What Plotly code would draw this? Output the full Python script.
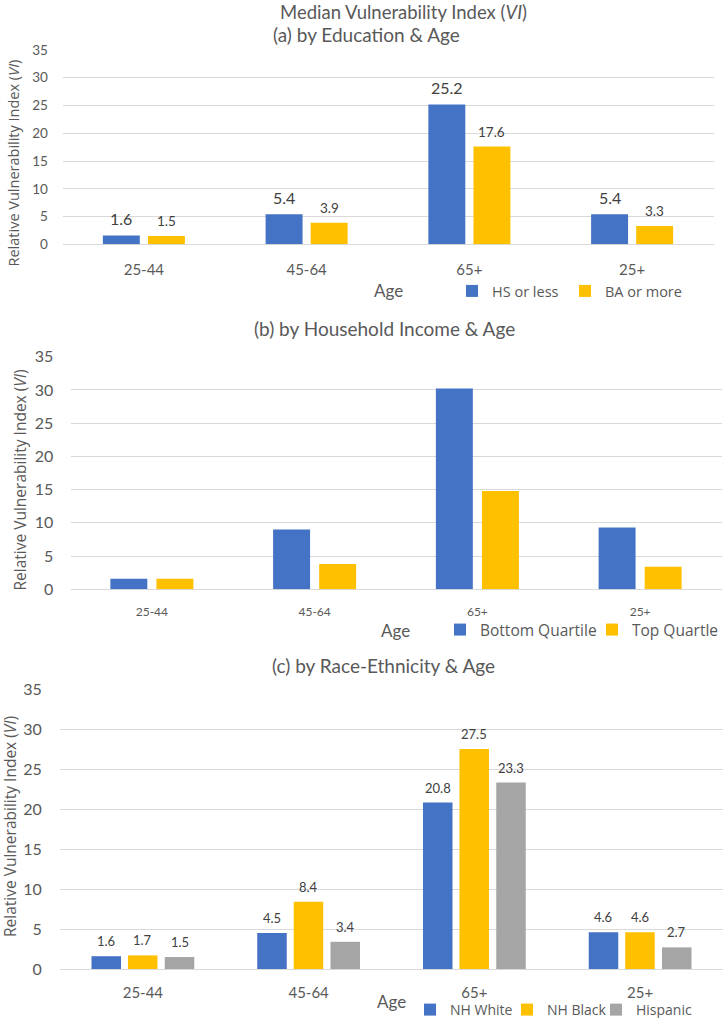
import plotly.graph_objects as go

# ---------------- data ----------------
ages = ["25-44", "45-64", "65+", "25+"]

edu_hs_or_less = [1.6, 5.4, 25.2, 5.4]
edu_ba_or_more = [1.5, 3.9, 17.6, 3.3]

inc_bottom_quartile = [1.6, 9.0, 30.2, 9.3]
inc_top_quartile = [1.6, 3.8, 14.8, 3.4]

race_nh_white = [1.6, 4.5, 20.8, 4.6]
race_nh_black = [1.7, 8.4, 27.5, 4.6]
race_hispanic = [1.5, 3.4, 23.3, 2.7]

# ---------------- styles ----------------
BLUE = "#4472C4"
YELLOW = "#FFC000"
GRAY = "#A5A5A5"
TXT = "#595959"
GRID = "#D9D9D9"
FONT = "Lato"
FONT2 = "Open Sans"
W, H = 725, 1018

fig = go.Figure()

panels = {
    "a": dict(x=(62.5, 713.5), y=(50, 244.3)),
    "b": dict(x=(70.5, 721.5), y=(356.7, 589.3)),
    "c": dict(x=(60, 723), y=(689, 969)),
}


def px_x(v):
    return v / W


def px_y(v):
    return 1 - v / H


def add_bars(vals, name, color, offset, width, xa, ya, legend, legendwidth, text_size=None):
    fig.add_trace(go.Bar(
        x=ages, y=vals, name=name, marker=dict(color=color, line=dict(width=0)),
        offset=offset, width=width, xaxis=xa, yaxis=ya, legend=legend,
        legendwidth=legendwidth, hoverinfo="x+y+name"))
    if text_size:
        for i, v in enumerate(vals):
            fig.add_annotation(
                x=i + offset + width / 2, y=v, xref=xa, yref=ya,
                text=f"{v:.1f}", showarrow=False, yanchor="bottom", yshift=5,
                font=dict(family=FONT, size=text_size, color="#404040"))


# (a) education
wa = 0.227
add_bars(edu_hs_or_less, "HS or less", BLUE, -0.252, wa, "x", "y", "legend", 68, 16)
add_bars(edu_ba_or_more, "BA or more", YELLOW, 0.025, wa, "x", "y", "legend", 95, 13.5)

# (b) income
wb = 0.227
add_bars(inc_bottom_quartile, "Bottom Quartile", BLUE, -0.255, wb, "x2", "y2", "legend2", 107)
add_bars(inc_top_quartile, "Top Quartle", YELLOW, 0.028, wb, "x2", "y2", "legend2", 100)

# (c) race-ethnicity
wc = 0.178
add_bars(race_nh_white, "NH White", BLUE, -0.31, wc, "x3", "y3", "legend3", 52, 13)
add_bars(race_nh_black, "NH Black", YELLOW, -0.09, wc, "x3", "y3", "legend3", 44, 13)
add_bars(race_hispanic, "Hispanic", GRAY, 0.132, wc, "x3", "y3", "legend3", 80, 13)

axis_cfg = {
    "a": dict(xs=15, ys=13.5, xstand=15, ylen=11),
    "b": dict(xs=12, ys=16, xstand=14, ylen=13),
    "c": dict(xs=15, ys=16, xstand=13, ylen=14),
}
for idx, key in enumerate(["a", "b", "c"]):
    p = panels[key]
    c = axis_cfg[key]
    sfx = "" if idx == 0 else str(idx + 1)
    fig.layout["xaxis" + sfx] = dict(
        domain=[px_x(p["x"][0]), px_x(p["x"][1])], anchor="y" + sfx,
        type="category", categoryorder="array", categoryarray=ages,
        range=[-0.5, 3.5], showgrid=False, showline=False, zeroline=False,
        ticks="", tickfont=dict(family=FONT, size=c["xs"], color=TXT),
        ticklabelstandoff=c["xstand"], fixedrange=True, automargin=False)
    fig.layout["yaxis" + sfx] = dict(
        domain=[px_y(p["y"][1]), px_y(p["y"][0])], anchor="x" + sfx,
        range=[0, 35], dtick=5, showgrid=True, gridcolor=GRID, gridwidth=1,
        zeroline=True, zerolinecolor=GRID, zerolinewidth=1, showline=False,
        ticks="outside", ticklen=c["ylen"], tickcolor="rgba(0,0,0,0)",
        tickfont=dict(family=FONT, size=c["ys"], color=TXT),
        fixedrange=True, automargin=False)


def label(text, x, y, size, family=FONT, angle=0):
    fig.add_annotation(text=text, x=px_x(x), y=px_y(y), xref="paper", yref="paper",
                       showarrow=False, xanchor="center", yanchor="middle",
                       textangle=angle, font=dict(family=family, size=size, color=TXT))


label("Median Vulnerability Index (<i>VI</i>)", 403, 11.5, 18.5)
label("(a) by Education &amp; Age", 366, 34.5, 19)
label("(b) by Household Income &amp; Age", 385, 329, 19)
label("(c) by Race-Ethnicity &amp; Age", 383, 665, 19)

label("Relative Vulnerability Index (<i>VI</i>)", 13.5, 163, 14.5, FONT2, -90)
label("Relative Vulnerability Index (<i>VI</i>)", 19.5, 480, 15.5, FONT2, -90)
label("Relative Vulnerability Index (<i>VI</i>)", 10, 827, 15.5, FONT2, -90)

label("Age", 388, 291, 17)
label("Age", 395, 630, 17)
label("Age", 392, 1001, 17)

leg_common = dict(orientation="h", xanchor="left", yanchor="middle",
                  bgcolor="rgba(0,0,0,0)", borderwidth=0, traceorder="normal",
                  entrywidthmode="pixels")
fig.update_layout(
    legend=dict(x=px_x(452), y=px_y(291),
                font=dict(family=FONT2, size=14.5, color=TXT), **leg_common),
    legend2=dict(x=px_x(440), y=px_y(630),
                 font=dict(family=FONT2, size=15.5, color=TXT), **leg_common),
    legend3=dict(x=px_x(410), y=px_y(1010),
                 font=dict(family=FONT2, size=14, color=TXT), **leg_common),
)

fig.update_layout(
    width=W, height=H, margin=dict(l=0, r=0, t=0, b=0, autoexpand=False),
    paper_bgcolor="white", plot_bgcolor="white",
    barmode="overlay", showlegend=True,
)

fig.write_html(
    "out.html",
    config={"displayModeBar": False},
    post_script="document.body.style.margin='0px';document.body.style.overflow='hidden';",
)
